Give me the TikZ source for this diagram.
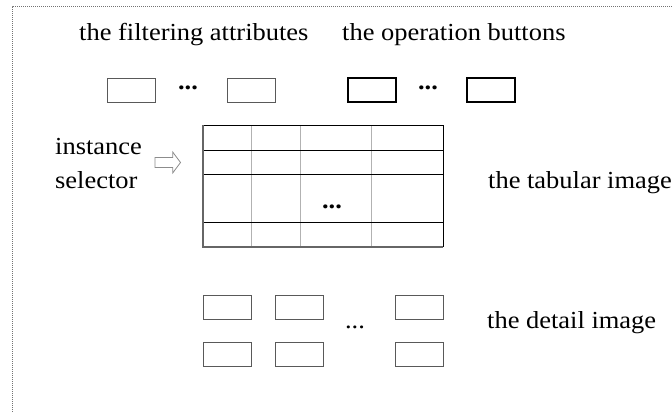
\documentclass[tikz,border=0pt]{standalone}
\usepackage{fontspec}
\setmainfont{Liberation Serif}[FakeStretch=1.08]
\begin{document}
\begin{tikzpicture}[x=1pt,y=-1pt,
  lbl/.style={font=\fontsize{24.5}{29}\selectfont, inner sep=0pt, anchor=base west},
  dotsb/.style={font=\fontsize{24.5}{29}\selectfont\bfseries, inner sep=0pt},
  dotsr/.style={font=\fontsize{24.5}{29}\selectfont, inner sep=0pt},
  fbox/.style={draw=black!65, line width=0.9pt, minimum width=48pt, minimum height=24pt, inner sep=0pt},
  obox/.style={draw=black, line width=2pt, minimum width=48pt, minimum height=23pt, inner sep=0pt},
  dbox/.style={draw=black!65, line width=1pt, minimum width=48.5pt, minimum height=24pt, inner sep=0pt},
  hline/.style={draw=black, line width=0.8pt},
  vline/.style={draw=black!30, line width=1pt}]
\useasboundingbox (0,0) rectangle (672,412);
% frame
\draw[black!55, dash pattern=on 1pt off 1pt, line width=1pt] (12,412) -- (12,7) -- (672,7);
% labels
\node[lbl] (lfa) at (79,40.7) {the filtering attributes};
\node[lbl] (lop) at (342,40.7) {the operation buttons};
\node[lbl] (ltab) at (488,188) {the tabular image};
\node[lbl] (ldet) at (487,328) {the detail image};
\node[lbl] (lins) at (55,154) {instance};
\node[lbl] (lsel) at (55,188) {selector};
% filter / operation buttons
\node[fbox] (fa1) at (131,90) {};
\node[dotsb] (fd) at (188,88) {...};
\node[fbox] (fa2) at (251.5,90) {};
\node[obox] (op1) at (371.5,90) {};
\node[dotsb] (od) at (428,88) {...};
\node[obox] (op2) at (491,90) {};
% table
\draw[vline] (251.7,125) -- (251.7,247);
\draw[vline] (300,125) -- (300,247);
\draw[vline] (371.7,125) -- (371.7,247);
\draw[hline] (203,150.7) -- (443,150.7);
\draw[hline] (203,174.3) -- (443,174.3);
\draw[hline] (203,222.3) -- (443,222.3);
\draw[hline] (203,125) -- (443,125) -- (443,247);
\draw[draw=black!60, line width=1.2pt] (203,125) -- (203,247) -- (443,247);
\node[dotsb] (td) at (332,207) {...};
% selector arrow
\draw[black!45, line width=0.8pt] (155,157.5) -- (172.7,157.5) -- (172.7,152) -- (180.5,162.5) -- (172.7,173) -- (172.7,167.5) -- (155,167.5) -- cycle;
% detail boxes
\node[dbox] (d11) at (227.6,307) {};
\node[dbox] (d12) at (299.5,307) {};
\node[dbox] (d13) at (419.5,307) {};
\node[dbox] (d21) at (227.6,354.7) {};
\node[dbox] (d22) at (299.5,354.7) {};
\node[dbox] (d23) at (419.5,354.7) {};
\node[dotsr] (dd) at (355,327.5) {...};
\end{tikzpicture}
\end{document}
